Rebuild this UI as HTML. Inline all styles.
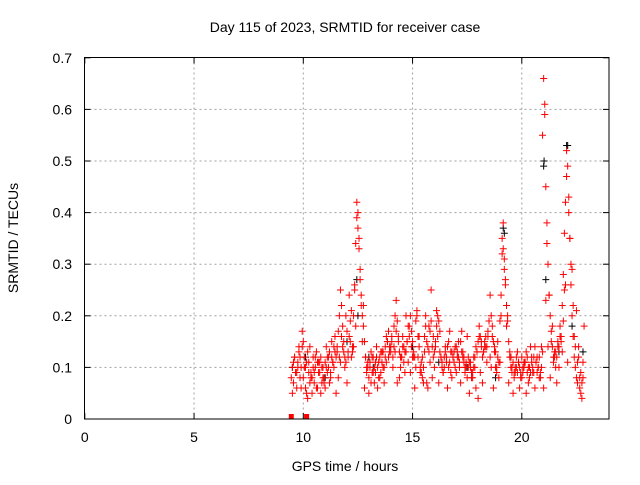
<!DOCTYPE html>
<html><head><meta charset="utf-8"><style>
body{margin:0;background:#fff;width:640px;height:480px;overflow:hidden}
svg text{font-family:"Liberation Sans",sans-serif;font-size:14px;fill:#000}
</style></head><body>
<svg id="chart" width="640" height="480" xmlns="http://www.w3.org/2000/svg">
<text x="345" y="32" text-anchor="middle">Day 115 of 2023, SRMTID for receiver case</text>
<text x="345" y="471" text-anchor="middle">GPS time / hours</text>
<text transform="translate(18,238) rotate(-90)" text-anchor="middle">SRMTID / TECUs</text>
<g id="grid"></g>
<g id="marks"></g>
<rect x="84.5" y="57.5" width="524.5" height="361.5" fill="none" stroke="#000" stroke-width="1"/>
<g id="ticks"></g>
</svg>
<script>
const xTicks=[0,5,10,15,20];
const yTicks=[0,0.1,0.2,0.3,0.4,0.5,0.6,0.7];
const yTickLabels=["0","0.1","0.2","0.3","0.4","0.5","0.6","0.7"];
const redTimes=[9.45,9.5,9.55,9.6,9.65,9.7,9.75,9.8,9.85,9.9,9.95,
10.0,10.05,10.1,10.15,10.2,10.25,10.3,10.35,10.4,10.45,10.5,10.55,10.6,10.65,10.7,10.75,10.8,10.85,10.9,10.95,
11.0,11.05,11.1,11.15,11.2,11.25,11.3,11.35,11.4,11.45,11.5,11.55,11.6,11.65,11.7,11.75,11.8,11.85,11.9,11.95,
12.0,12.05,12.1,12.15,12.2,12.25,12.3,12.35,12.4,12.45,12.5,12.55,12.6,12.65,12.7,12.75,12.8,12.85,12.9,12.95,
13.0,13.05,13.1,13.15,13.2,13.25,13.3,13.35,13.4,13.45,13.5,13.55,13.6,13.65,13.7,13.75,13.8,13.85,13.9,13.95,
14.0,14.05,14.1,14.15,14.2,14.25,14.3,14.35,14.4,14.45,14.5,14.55,14.6,14.65,14.7,14.75,14.8,14.85,14.9,14.95,
15.0,15.05,15.1,15.15,15.2,15.25,15.3,15.35,15.4,15.45,15.5,15.55,15.6,15.65,15.7,15.75,15.8,15.85,15.9,15.95,
16.0,16.05,16.1,16.15,16.2,16.25,16.3,16.35,16.4,16.45,16.5,16.55,16.6,16.65,16.7,16.75,16.8,16.85,16.9,16.95,
17.0,17.05,17.1,17.15,17.2,17.25,17.3,17.35,17.4,17.45,17.5,17.55,17.6,17.65,17.7,17.75,17.8,17.85,17.9,17.95,
18.0,18.05,18.1,18.15,18.2,18.25,18.3,18.35,18.4,18.45,18.5,18.55,18.6,18.65,18.7,18.75,18.8,18.85,18.9,18.95,
19.0,19.05,19.1,19.15,19.2,19.25,19.3,19.35,19.4,19.45,19.5,19.55,19.6,19.65,19.7,19.75,19.8,19.85,19.9,19.95,
20.0,20.05,20.1,20.15,20.2,20.25,20.3,20.35,20.4,20.45,20.5,20.55,20.6,20.65,20.7,20.75,20.8,20.85,20.9,20.95,
21.0,21.05,21.1,21.15,21.2,21.25,21.3,21.35,21.4,21.45,21.5,21.55,21.6,21.65,21.7,21.75,21.8,21.85,21.9,21.95,
22.0,22.05,22.1,22.15,22.2,22.25,22.3,22.35,22.4,22.45,22.5,22.55,22.6,22.65,22.7,22.75,22.8,22.85];
const redValues=[0.08,0.1,0.07,0.12,0.09,0.06,0.11,0.13,0.08,0.1,0.17,
0.15,0.12,0.06,0.05,0.13,0.11,0.14,0.09,0.08,0.12,0.07,0.1,0.13,0.06,0.09,0.11,0.12,0.07,0.1,0.08,
0.11,0.14,0.12,0.1,0.13,0.09,0.15,0.11,0.14,0.16,0.12,0.13,0.17,0.2,0.25,0.22,0.18,0.15,0.12,0.2,
0.17,0.13,0.16,0.19,0.21,0.14,0.2,0.26,0.34,0.42,0.40,0.33,0.29,0.24,0.2,0.22,0.15,0.12,0.09,0.11,
0.08,0.1,0.13,0.12,0.09,0.07,0.11,0.14,0.1,0.08,0.12,0.09,0.11,0.13,0.1,0.14,0.16,0.15,0.17,0.14,
0.13,0.16,0.12,0.18,0.2,0.23,0.19,0.16,0.13,0.1,0.12,0.14,0.11,0.09,0.13,0.15,0.18,0.16,0.2,0.17,
0.15,0.13,0.12,0.19,0.21,0.16,0.14,0.09,0.11,0.08,0.1,0.13,0.2,0.07,0.14,0.18,0.11,0.25,0.14,0.16,
0.13,0.15,0.18,0.2,0.19,0.17,0.12,0.11,0.09,0.1,0.13,0.12,0.14,0.15,0.11,0.09,0.13,0.12,0.11,0.1,
0.14,0.13,0.12,0.11,0.15,0.17,0.13,0.11,0.09,0.1,0.08,0.12,0.11,0.1,0.09,0.08,0.1,0.12,0.14,0.13,
0.15,0.18,0.16,0.14,0.12,0.13,0.15,0.16,0.14,0.17,0.19,0.24,0.2,0.16,0.15,0.13,0.1,0.09,0.12,0.08,
0.19,0.24,0.35,0.38,0.31,0.26,0.22,0.19,0.15,0.13,0.1,0.09,0.11,0.08,0.1,0.12,0.09,0.11,0.1,0.08,
0.12,0.09,0.1,0.11,0.13,0.12,0.1,0.08,0.09,0.11,0.1,0.12,0.14,0.11,0.09,0.1,0.12,0.08,0.14,0.55,
0.66,0.61,0.45,0.38,0.3,0.24,0.2,0.17,0.14,0.11,0.13,0.1,0.12,0.15,0.14,0.18,0.15,0.22,0.28,0.36,
0.42,0.52,0.49,0.4,0.35,0.26,0.2,0.16,0.12,0.1,0.08,0.07,0.12,0.06,0.05,0.04,0.08,0.18];
const redTimes2=[9.5,9.6,9.7,9.8,9.9,10.0,10.1,10.2,10.3,10.4,10.5,10.6,10.7,10.8,10.9,11.0,11.1,11.2,11.3,11.4,11.5,11.6,11.7,11.8,11.9,12.0,12.1,12.2,12.3,12.4,12.5,12.6,12.7,12.8,12.9,13.0,13.1,13.2,13.3,13.4,13.5,13.6,13.7,13.8,13.9,14.0,14.1,14.2,14.3,14.4,14.5,14.6,14.7,14.8,14.9,15.0,15.1,15.2,15.3,15.4,15.5,15.6,15.7,15.8,15.9,16.0,16.1,16.2,16.3,16.4,16.5,16.6,16.7,16.8,16.9,17.0,17.1,17.2,17.3,17.4,17.5,17.6,17.7,17.8,17.9,18.0,18.1,18.2,18.3,18.4,18.5,18.6,18.7,18.8,18.9,19.0,19.1,19.2,19.3,19.4,19.5,19.6,19.7,19.8,19.9,20.0,20.1,20.2,20.3,20.4,20.5,20.6,20.7,20.8,20.9,21.0,21.1,21.2,21.3,21.4,21.5,21.6,21.7,21.8,21.9,22.0,22.1,22.2,22.3,22.4,22.5,22.6,22.7,22.8];
const redValues2=[0.05,0.12,0.09,0.14,0.06,0.08,0.1,0.04,0.07,0.05,0.09,0.06,0.11,0.05,0.08,0.06,0.09,0.07,0.12,0.1,0.05,0.08,0.11,0.14,0.1,0.07,0.24,0.12,0.14,0.18,0.37,0.27,0.15,0.06,0.1,0.05,0.07,0.12,0.09,0.06,0.08,0.13,0.07,0.11,0.12,0.14,0.1,0.13,0.07,0.08,0.12,0.14,0.2,0.11,0.09,0.12,0.06,0.2,0.16,0.09,0.07,0.18,0.06,0.17,0.08,0.1,0.21,0.07,0.12,0.09,0.14,0.06,0.17,0.08,0.13,0.09,0.15,0.07,0.12,0.1,0.16,0.05,0.08,0.12,0.06,0.04,0.09,0.07,0.14,0.11,0.19,0.1,0.06,0.13,0.15,0.11,0.32,0.29,0.18,0.07,0.12,0.05,0.09,0.13,0.06,0.08,0.11,0.05,0.07,0.14,0.09,0.06,0.12,0.08,0.1,0.06,0.23,0.14,0.08,0.18,0.12,0.07,0.1,0.16,0.19,0.26,0.11,0.35,0.29,0.16,0.21,0.14,0.09,0.11,0.19,0.18];
const redTimes3=[9.55,9.65,9.75,9.85,9.95,10.05,10.15,10.25,10.35,10.45,10.55,10.65,10.75,10.85,10.95,11.05,11.15,11.25,11.35,11.45,11.55,11.65,11.75,11.85,11.95,12.05,12.15,12.25,12.35,12.45,12.55,12.65,12.75,12.85,12.95,13.05,13.15,13.25,13.35,13.45,13.55,13.65,13.75,13.85,13.95,14.05,14.15,14.25,14.35,14.45,14.55,14.65,14.75,14.85,14.95,15.05,15.15,15.25,15.35,15.45,15.55,15.65,15.75,15.85,15.95,16.05,16.15,16.25,16.35,16.45,16.55,16.65,16.75,16.85,16.95,17.05,17.15,17.25,17.35,17.45,17.55,17.65,17.75,17.85,17.95,18.05,18.15,18.25,18.35,18.45,18.55,18.65,18.75,18.85,18.95,19.05,19.15,19.25,19.35,19.45,19.55,19.65,19.75,19.85,19.95,20.05,20.15,20.25,20.35,20.45,20.55,20.65,20.75,20.85,20.95,21.05,21.15,21.25,21.35,21.45,21.55,21.65,21.75,21.85,21.95,22.05,22.15,22.25,22.35,22.45,22.55,22.65,22.75];
const redValues3=[0.11,0.09,0.1,0.12,0.14,0.1,0.11,0.09,0.08,0.1,0.12,0.11,0.09,0.1,0.07,0.1,0.12,0.08,0.11,0.13,0.14,0.12,0.16,0.13,0.11,0.12,0.15,0.13,0.25,0.39,0.35,0.22,0.18,0.12,0.1,0.11,0.09,0.1,0.12,0.11,0.13,0.1,0.12,0.15,0.13,0.15,0.14,0.17,0.15,0.12,0.16,0.13,0.15,0.18,0.14,0.12,0.1,0.12,0.1,0.12,0.16,0.15,0.13,0.19,0.12,0.14,0.16,0.13,0.1,0.12,0.11,0.1,0.13,0.12,0.14,0.12,0.1,0.13,0.12,0.11,0.1,0.11,0.09,0.1,0.13,0.16,0.15,0.13,0.14,0.16,0.12,0.18,0.14,0.1,0.11,0.2,0.33,0.27,0.2,0.12,0.1,0.09,0.1,0.11,0.09,0.1,0.11,0.09,0.1,0.12,0.09,0.11,0.1,0.09,0.13,0.59,0.34,0.24,0.15,0.12,0.13,0.14,0.16,0.13,0.25,0.47,0.43,0.3,0.22,0.14,0.11,0.08,0.07];
const blackTimes=[9.5,10.1,11.0,12.0,12.45,12.5,13.0,13.2,15.0,16.2,17.5,18.8,19.15,19.2,19.5,20.4,21.0,21.02,21.1,21.7,22.05,22.1,22.3,22.8];
const blackValues=[0.1,0.12,0.08,0.15,0.27,0.2,0.12,0.1,0.14,0.11,0.1,0.08,0.37,0.36,0.12,0.09,0.49,0.5,0.27,0.13,0.53,0.53,0.18,0.13];
const zeroTimes=[9.45,10.15];

const NS="http://www.w3.org/2000/svg";
const X0=84.8,XS=21.85,Y0=419,YS=516;
const xs=t=>X0+t*XS, ys=v=>Y0-v*YS;
const grid=document.getElementById('grid'),ticks=document.getElementById('ticks'),marks=document.getElementById('marks');
function mk(tag,a,p){const e=document.createElementNS(NS,tag);for(const k in a)e.setAttribute(k,a[k]);p.appendChild(e);return e;}
xTicks.forEach(t=>{const x=xs(t);
 if(t>0){const l=mk('line',{x1:x,x2:x,y1:57.5,y2:419,stroke:'#a0a0a0','stroke-dasharray':'2,3'},grid);
 
 }
 mk('line',{x1:x,x2:x,y1:419,y2:413,stroke:'#000'},ticks);mk('line',{x1:x,x2:x,y1:57.5,y2:63.5,stroke:'#000'},ticks);
 const tx=mk('text',{x:x,y:442,'text-anchor':'middle'},ticks);tx.textContent=t;
 
 });
yTicks.forEach((v,i)=>{const y=ys(v);
 if(v>0&&v<0.7){const l=mk('line',{x1:84.5,x2:609,y1:y,y2:y,stroke:'#a0a0a0','stroke-dasharray':'2,3'},grid);
 
 }
 mk('line',{x1:84.5,x2:90.5,y1:y,y2:y,stroke:'#000'},ticks);mk('line',{x1:603,x2:609,y1:y,y2:y,stroke:'#000'},ticks);
 const tx=mk('text',{x:72,y:y+5,'text-anchor':'end'},ticks);tx.textContent=yTickLabels[i];
 
 });
function plus(t,v,c,name){const x=xs(t),y=ys(v);
 const p=mk('path',{d:`M${x-3.5},${y}h7M${x},${y-3.5}v7`,stroke:c,'stroke-width':1},marks);
 
 }
blackTimes.forEach((t,i)=>plus(t,blackValues[i],'#000','black-point'));
redTimes.forEach((t,i)=>plus(t,redValues[i],'#f00','red-point'));
redTimes2.forEach((t,i)=>plus(t,redValues2[i],'#f00','red-point'));
redTimes3.forEach((t,i)=>plus(t,redValues3[i],'#f00','red-point'));
zeroTimes.forEach(t=>{const r=mk('rect',{x:xs(t)-2.5,y:414,width:5,height:5,fill:'#f00'},marks);
 
 });
</script>
</body></html>
